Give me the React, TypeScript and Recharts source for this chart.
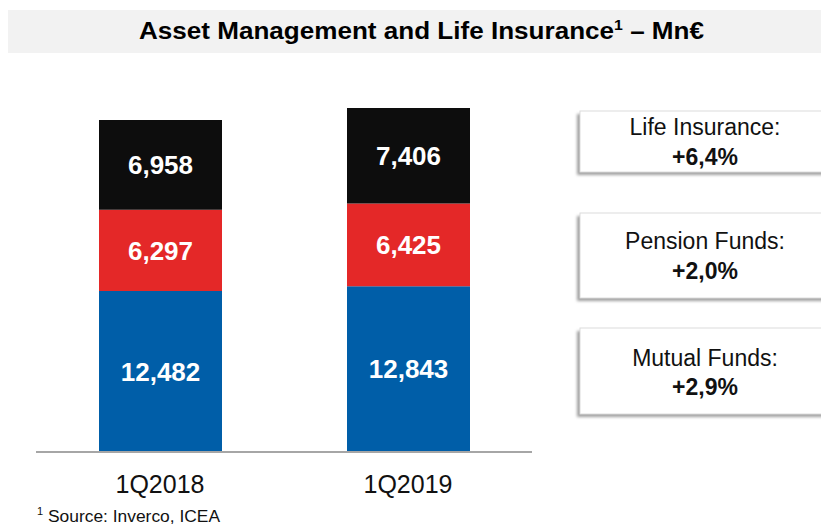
import React from 'react';
import { BarChart, Bar, XAxis, YAxis, LabelList } from 'recharts';

const categories = ['1Q2018', '1Q2019'];
const mutualFunds = [12482, 12843];
const pensionFunds = [6297, 6425];
const lifeInsurance = [6958, 7406];
const growthLabels = ['Life Insurance:', 'Pension Funds:', 'Mutual Funds:'];
const growthValues = ['+6,4%', '+2,0%', '+2,9%'];

const data = categories.map((c, i) => ({
  name: c,
  mf: mutualFunds[i],
  pf: pensionFunds[i],
  li: lifeInsurance[i],
}));

const FONT = '"Liberation Sans", Arial, Helvetica, sans-serif';
const fmt = (v: any) => Number(v).toLocaleString('en-US');

const boxes = [
  { y: 111, h: 61, l1: 135, l2: 165 },
  { y: 213, h: 85, l1: 249, l2: 279 },
  { y: 328, h: 86, l1: 366, l2: 395 },
];

export default function App() {
  return (
    <div style={{ position: 'absolute', left: 0, top: 0, width: 821, height: 524, background: '#fff', overflow: 'hidden' }}>
      <div style={{ position: 'absolute', left: 0, top: 0 }}>
        <BarChart
          width={821}
          height={524}
          data={data}
          margin={{ top: 65, right: 289, bottom: 32, left: 36 }}
          barSize={123}
        >
          <XAxis
            dataKey="name"
            height={40}
            tickLine={false}
            tickSize={0}
            tickMargin={23}
            axisLine={{ stroke: '#a6a6a6', strokeWidth: 2 }}
            tick={{ fill: '#111', fontSize: 25, fontFamily: FONT }}
            interval={0}
          />
          <YAxis hide domain={[0, 30000]} />
          <Bar dataKey="mf" stackId="a" fill="#005ea8" isAnimationActive={false}>
            <LabelList dataKey="mf" position="center" formatter={fmt} fill="#fff" style={{ fontSize: 26, fontWeight: 'bold', fontFamily: FONT }} />
          </Bar>
          <Bar dataKey="pf" stackId="a" fill="#e42828" isAnimationActive={false}>
            <LabelList dataKey="pf" position="center" formatter={fmt} fill="#fff" style={{ fontSize: 26, fontWeight: 'bold', fontFamily: FONT }} />
          </Bar>
          <Bar dataKey="li" stackId="a" fill="#0d0d0d" isAnimationActive={false}>
            <LabelList dataKey="li" position="center" formatter={fmt} fill="#fff" style={{ fontSize: 26, fontWeight: 'bold', fontFamily: FONT }} />
          </Bar>
        </BarChart>
      </div>
      <svg width={821} height={524} style={{ position: 'absolute', left: 0, top: 0, pointerEvents: 'none' }}>
        <defs>
          <filter id="shadow" x="-10%" y="-20%" width="120%" height="150%">
            <feGaussianBlur stdDeviation="1.5" />
          </filter>
        </defs>
        <rect x={8} y={10} width={813} height={43} fill="#f2f2f2" />
        <text x={139} y={38.5} fontFamily={FONT} fontWeight="bold" fontSize={23} fill="#000" textLength={565} lengthAdjust="spacingAndGlyphs">
          Asset Management and Life Insurance
          <tspan fontSize={14} dy={-9}>1</tspan>
          <tspan dy={9}> – Mn€</tspan>
        </text>
        {boxes.map((b, i) => (
          <g key={i}>
            <rect x={577} y={b.y + 3} width={260} height={b.h} fill="#a0a0a0" filter="url(#shadow)" />
            <rect x={580} y={b.y} width={260} height={b.h} fill="#fff" stroke="#dcdcdc" strokeWidth={1} />
            <text x={705} y={b.l1} textAnchor="middle" fontFamily={FONT} fontSize={23} fill="#111">{growthLabels[i]}</text>
            <text x={705} y={b.l2} textAnchor="middle" fontFamily={FONT} fontSize={23} fontWeight="bold" fill="#111">{growthValues[i]}</text>
          </g>
        ))}
        <text x={37} y={515} fontFamily={FONT} fontSize={11} fill="#111">1</text>
        <text x={48} y={522} fontFamily={FONT} fontSize={16} fill="#111" textLength={172} lengthAdjust="spacingAndGlyphs">Source: Inverco, ICEA</text>
      </svg>
    </div>
  );
}
